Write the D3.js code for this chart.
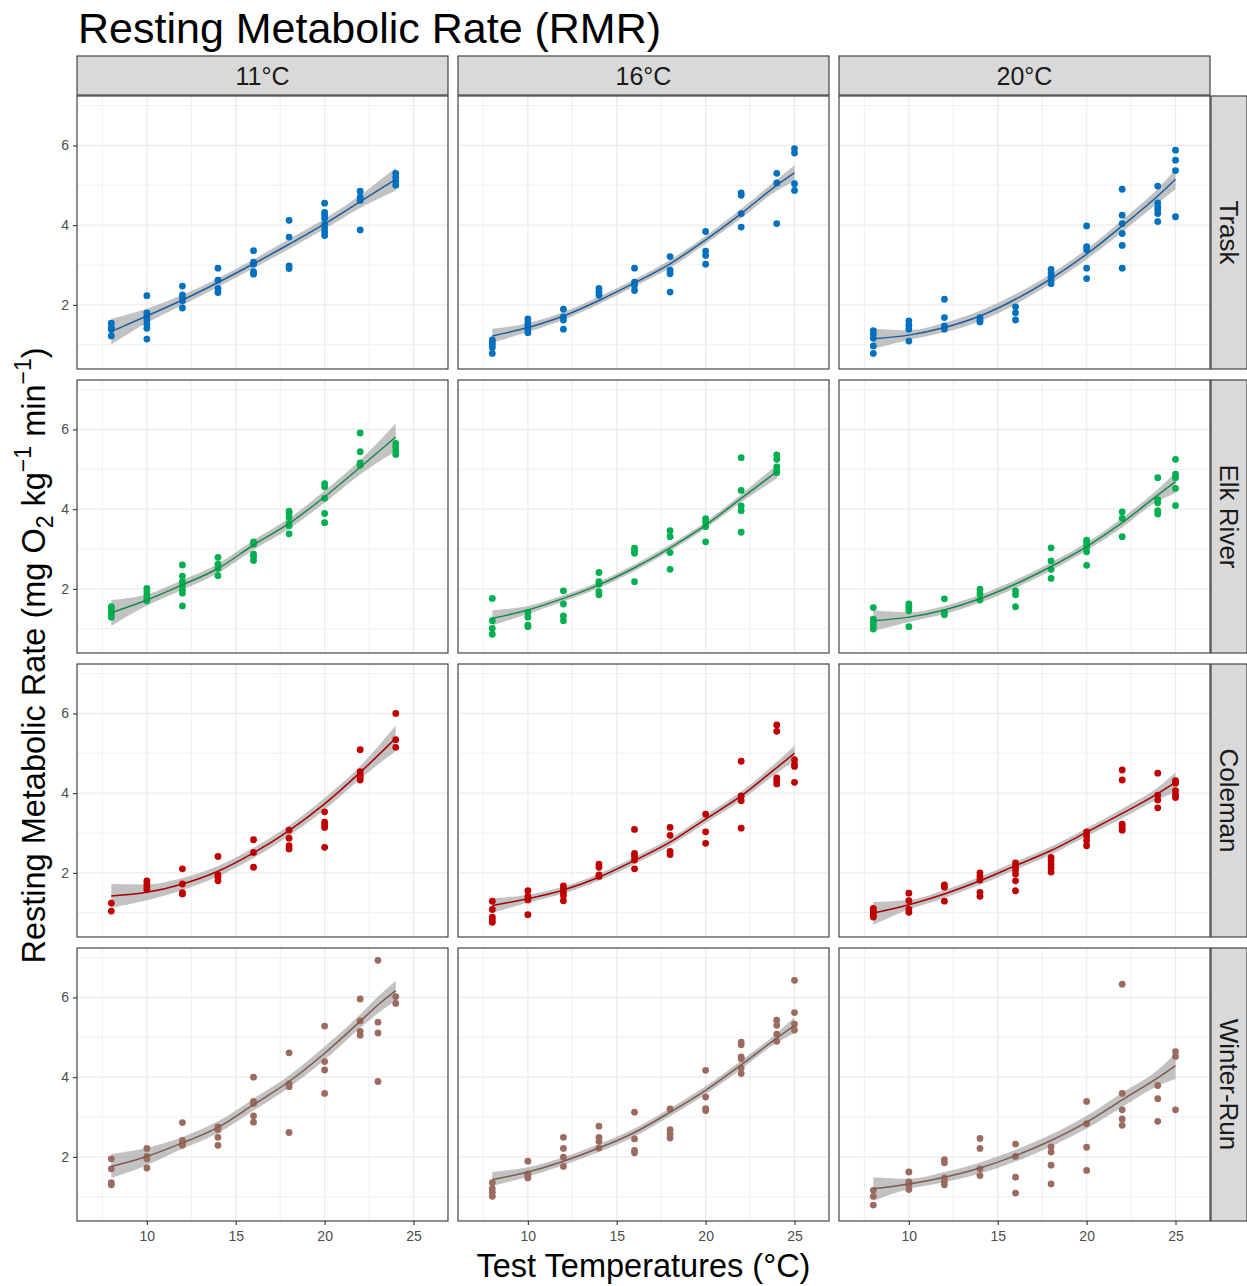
<!DOCTYPE html>
<html>
<head>
<meta charset="utf-8">
<script src="https://cdn.jsdelivr.net/npm/d3@7"></script>
<style>
  body { margin: 0; background: #ffffff; }
  text { font-family: "Liberation Sans", Arial, Helvetica, sans-serif; }
</style>
</head>
<body>
<svg id="chart" width="1247" height="1286"></svg>
<script>
// Facet labels
const acclimation = ["11°C", "16°C", "20°C"];
const stocks = ["Trask", "Elk River", "Coleman", "Winter-Run"];
const stockColors = ["#0070C0", "#00B050", "#C00000", "#9C6B60"];
const lineColors = ["#1A5E9E", "#178A48", "#A80000", "#7E5A50"];

// Axis ticks
const xTickValues = [10, 15, 20, 25];
const xMinorValues = [7.5, 12.5, 17.5, 22.5];
const yTickValues = [2, 4, 6];
const yMinorValues = [1, 3, 5, 7];

// Observations: [test temperature, RMR values...]
const trask11 = [[8,1.54,1.44,1.38,1.22],[10,2.23,1.80,1.72,1.62,1.51,1.41,1.14],[12,2.47,2.25,2.17,2.10,1.92],[14,2.92,2.62,2.41,2.31],[16,3.36,3.07,3.02,2.83,2.77],[18,4.12,3.70,2.98,2.91],[20,4.55,4.32,4.25,4.17,4.02,3.93,3.83,3.74],[22,4.85,4.70,4.62,3.88],[24,5.30,5.20,5.10,5.00]];
const trask16 = [[8,1.12,1.07,1.00,0.93,0.78],[10,1.65,1.55,1.47,1.39,1.30],[12,1.89,1.70,1.62,1.39],[14,2.41,2.32,2.24],[16,2.92,2.57,2.49,2.36],[18,3.21,2.87,2.78,2.32],[20,3.84,3.35,3.24,3.02],[22,4.81,4.75,4.29,3.95],[24,5.30,5.06,4.04],[25,5.92,5.81,5.04,4.87]];
const trask20 = [[8,1.35,1.26,1.16,0.97,0.78],[10,1.60,1.49,1.39,1.09],[12,2.14,1.68,1.47,1.39],[14,1.68,1.62,1.57],[16,1.95,1.80,1.62],[18,2.89,2.79,2.70,2.62,2.53],[20,3.98,3.46,3.38,2.92,2.66],[22,4.90,4.25,4.04,3.79,3.49,2.92],[24,4.98,4.56,4.46,4.38,4.29,4.09],[25,5.88,5.63,5.37,4.21]];
const elk11 = [[8,1.55,1.49,1.40,1.35,1.29],[10,2.01,1.93,1.85,1.76,1.70],[12,2.60,2.32,2.18,2.08,1.97,1.89,1.57],[14,2.79,2.62,2.51,2.33],[16,3.18,3.12,2.87,2.81,2.71],[18,3.95,3.89,3.79,3.63,3.58,3.38],[20,4.64,4.56,4.27,3.89,3.66],[22,5.91,5.44,5.16,5.10],[24,5.65,5.56,5.46,5.37]];
const elk16 = [[8,1.76,1.20,1.01,0.86],[10,1.41,1.29,1.09,1.05],[12,1.95,1.62,1.32,1.20],[14,2.41,2.18,2.12,1.93,1.85],[16,3.02,2.96,2.89,2.18],[18,3.46,3.31,2.91,2.49],[20,3.76,3.68,3.56,3.18],[22,5.29,4.47,4.08,3.96,3.42],[24,5.36,5.25,5.06,4.96,4.91]];
const elk20 = [[8,1.53,1.24,1.16,1.08,0.99],[10,1.62,1.54,1.45,1.05],[12,1.75,1.41,1.35],[14,1.99,1.87,1.72],[16,1.95,1.85,1.55],[18,3.03,2.70,2.49,2.26],[20,3.22,3.14,3.06,2.93,2.59],[22,3.93,3.77,3.31],[24,4.79,4.24,4.16,3.96,3.88],[25,5.25,4.88,4.79,4.52,4.09]];
const coleman11 = [[8,1.24,1.04],[10,1.80,1.72,1.65,1.58],[12,2.10,1.72,1.50,1.47],[14,2.41,1.95,1.89,1.80],[16,2.83,2.51,2.14],[18,3.07,2.87,2.68,2.60],[20,3.53,3.27,3.20,3.14,2.64],[22,5.09,4.54,4.46,4.40,4.33],[24,6.00,5.34,5.15]];
const coleman16 = [[8,1.29,1.08,0.89,0.83,0.76],[10,1.55,1.41,1.32,0.95],[12,1.67,1.60,1.51,1.43,1.30],[14,2.22,2.14,1.95,1.91],[16,3.09,2.49,2.41,2.32,2.10],[18,3.14,2.94,2.54,2.46],[20,3.47,3.03,2.74],[22,4.80,3.93,3.81,3.12],[24,5.71,5.55,4.38,4.31,4.23],[25,4.84,4.72,4.67,4.27]];
const coleman20 = [[8,1.11,1.05,0.99,0.93,0.89],[10,1.49,1.30,1.09,1.01],[12,1.70,1.64,1.29],[14,2.00,1.91,1.82,1.51,1.41],[16,2.25,2.16,2.07,1.97,1.80,1.55],[18,2.39,2.31,2.21,2.12,2.02],[20,3.03,2.92,2.81,2.68],[22,4.58,4.33,3.22,3.14,3.07],[24,4.50,3.95,3.83,3.63],[25,4.31,4.25,4.06,3.96,3.89]];
const winter11 = [[8,1.95,1.70,1.35,1.30],[10,2.21,2.01,1.95,1.72],[12,2.86,2.41,2.35,2.29],[14,2.75,2.68,2.49,2.29],[16,4.00,3.39,3.34,3.03,2.87],[18,4.61,3.83,3.76,2.61],[20,5.28,4.39,4.18,3.59],[22,5.96,5.41,5.15,5.05],[23,6.93,5.38,5.11,3.89],[24,6.02,5.85]];
const winter16 = [[8,1.35,1.20,1.11,1.01],[10,1.89,1.57,1.52,1.47],[12,2.49,2.21,1.99,1.76],[14,2.77,2.49,2.39,2.22],[16,3.12,2.45,2.16,2.10],[18,3.20,2.68,2.57,2.47],[20,4.17,3.50,3.21,3.16],[22,4.88,4.81,4.51,4.46,4.23,4.09],[24,5.43,5.30,5.08,4.90],[25,6.43,5.62,5.33,5.18]];
const winter20 = [[8,1.16,1.01,0.79],[10,1.62,1.37,1.30,1.18],[12,1.93,1.85,1.47,1.39,1.30],[14,2.46,2.21,1.70,1.53],[16,2.32,2.01,1.49,1.09],[18,2.25,2.12,1.79,1.32],[20,3.39,2.83,2.24,1.66],[22,6.33,3.59,3.18,2.95,2.79],[24,3.79,3.46,2.89],[25,4.64,4.52,3.18]];

// Smoothed trend with 95% band: [test temperature, fit, lower, upper]
const traskFit11 = [[8,1.33,1.01,1.65],[10,1.72,1.55,1.90],[12,2.12,1.99,2.25],[14,2.56,2.45,2.67],[16,3.03,2.92,3.14],[18,3.52,3.40,3.65],[20,4.03,3.90,4.16],[22,4.59,4.43,4.75],[24,5.15,4.86,5.44]];
const traskFit16 = [[8,1.22,1.05,1.40],[10,1.43,1.32,1.54],[12,1.72,1.62,1.82],[14,2.11,2.02,2.20],[16,2.55,2.46,2.64],[18,3.03,2.93,3.13],[20,3.63,3.53,3.73],[22,4.29,4.17,4.41],[24,5.00,4.86,5.14],[25,5.31,5.10,5.50]];
const traskFit20 = [[8,1.15,0.90,1.40],[10,1.24,1.12,1.36],[12,1.43,1.31,1.55],[14,1.72,1.59,1.85],[16,2.14,2.01,2.27],[18,2.66,2.54,2.78],[20,3.27,3.14,3.40],[22,3.98,3.83,4.13],[24,4.73,4.55,4.91],[25,5.15,4.90,5.40]];
const elkFit11 = [[8,1.40,1.07,1.72],[10,1.72,1.58,1.86],[12,2.10,1.98,2.22],[14,2.51,2.39,2.63],[16,3.10,2.98,3.22],[18,3.64,3.51,3.77],[20,4.31,4.16,4.46],[22,5.05,4.87,5.23],[24,5.81,5.45,6.15]];
const elkFit16 = [[8,1.26,1.08,1.46],[10,1.47,1.37,1.57],[12,1.76,1.68,1.84],[14,2.10,2.02,2.18],[16,2.53,2.45,2.61],[18,3.03,2.95,3.11],[20,3.60,3.52,3.68],[22,4.27,4.17,4.37],[24,4.94,4.77,5.11]];
const elkFit20 = [[8,1.20,0.94,1.46],[10,1.29,1.17,1.41],[12,1.47,1.37,1.57],[14,1.75,1.65,1.85],[16,2.12,2.02,2.22],[18,2.56,2.46,2.66],[20,3.06,2.96,3.16],[22,3.66,3.54,3.78],[24,4.35,4.20,4.50],[25,4.69,4.40,4.92]];
const colemanFit11 = [[8,1.42,1.12,1.72],[10,1.51,1.31,1.71],[12,1.72,1.57,1.87],[14,2.04,1.91,2.17],[16,2.50,2.37,2.63],[18,3.06,2.93,3.19],[20,3.73,3.58,3.88],[22,4.52,4.36,4.68],[24,5.38,5.06,5.70]];
const colemanFit16 = [[8,1.18,1.00,1.36],[10,1.35,1.25,1.45],[12,1.57,1.48,1.66],[14,1.89,1.80,1.98],[16,2.31,2.22,2.40],[18,2.77,2.68,2.86],[20,3.35,3.25,3.45],[22,3.93,3.82,4.04],[24,4.64,4.50,4.78],[25,5.00,4.81,5.19]];
const colemanFit20 = [[8,0.99,0.70,1.27],[10,1.20,1.08,1.32],[12,1.47,1.37,1.57],[14,1.80,1.70,1.90],[16,2.18,2.08,2.28],[18,2.56,2.46,2.66],[20,3.02,2.92,3.12],[22,3.49,3.37,3.61],[24,3.99,3.84,4.14],[25,4.27,4.02,4.52]];
const winterFit11 = [[8,1.76,1.47,2.07],[10,2.01,1.79,2.23],[12,2.35,2.20,2.50],[14,2.74,2.59,2.89],[16,3.31,3.16,3.46],[18,3.89,3.74,4.04],[20,4.60,4.43,4.77],[22,5.40,5.23,5.57],[23,5.81,5.60,6.02],[24,6.17,5.93,6.42]];
const winterFit16 = [[8,1.43,1.27,1.62],[10,1.62,1.50,1.74],[12,1.89,1.79,1.99],[14,2.22,2.12,2.32],[16,2.61,2.51,2.71],[18,3.12,3.02,3.22],[20,3.67,3.57,3.77],[22,4.31,4.20,4.42],[24,4.98,4.86,5.10],[25,5.30,5.10,5.50]];
const winterFit20 = [[8,1.20,0.90,1.49],[10,1.32,1.19,1.45],[12,1.49,1.36,1.62],[14,1.72,1.58,1.86],[16,2.03,1.88,2.18],[18,2.41,2.26,2.56],[20,2.87,2.71,3.03],[22,3.43,3.25,3.61],[24,3.98,3.78,4.18],[25,4.29,3.95,4.60]];

const panelPoints = [
  [trask11, trask16, trask20],
  [elk11, elk16, elk20],
  [coleman11, coleman16, coleman20],
  [winter11, winter16, winter20]
];
const panelFits = [
  [traskFit11, traskFit16, traskFit20],
  [elkFit11, elkFit16, elkFit20],
  [colemanFit11, colemanFit16, colemanFit20],
  [winterFit11, winterFit16, winterFit20]
];

(function draw() {
  const svg = d3.select("#chart");
  const gridLeft = 77, gridTop = 96, pw = 371, ph = 273, gapX = 10, gapY = 11;
  const stripH = 40, stripW = 36;
  const gridRight = gridLeft + 3 * pw + 2 * gapX;
  const gridBottom = gridTop + 4 * ph + 3 * gapY;
  const fontFamily = "Liberation Sans, Arial, sans-serif";

  const x = d3.scaleLinear().domain([6.07, 26.94]).range([0, pw]);
  const y = d3.scaleLinear().domain([0.39, 7.24]).range([ph, 0]);

  const band = d3.area()
    .x(d => x(d[0])).y0(d => y(d[2])).y1(d => y(d[3]))
    .curve(d3.curveMonotoneX);
  const trend = d3.line()
    .x(d => x(d[0])).y(d => y(d[1]))
    .curve(d3.curveMonotoneX);

  svg.append("rect").attr("width", 1247).attr("height", 1286).attr("fill", "#ffffff");

  // Title
  svg.append("text")
    .attr("x", 78).attr("y", 43)
    .attr("font-size", 43).attr("fill", "#000")
    .text("Resting Metabolic Rate (RMR)");

  stocks.forEach((stock, r) => {
    acclimation.forEach((acc, c) => {
      const px = gridLeft + c * (pw + gapX);
      const py = gridTop + r * (ph + gapY);
      const g = svg.append("g").attr("transform", `translate(${px},${py})`);

      g.append("rect").attr("width", pw).attr("height", ph).attr("fill", "#fff");

      // minor grid
      g.selectAll("line.xminor").data(xMinorValues).join("line").attr("class", "xminor")
        .attr("x1", d => x(d)).attr("x2", d => x(d)).attr("y1", 0).attr("y2", ph)
        .attr("stroke", "#EBEBEB").attr("stroke-width", 0.8);
      g.selectAll("line.yminor").data(yMinorValues).join("line").attr("class", "yminor")
        .attr("y1", d => y(d)).attr("y2", d => y(d)).attr("x1", 0).attr("x2", pw)
        .attr("stroke", "#EBEBEB").attr("stroke-width", 0.8);
      // major grid
      g.selectAll("line.xmajor").data(xTickValues).join("line").attr("class", "xmajor")
        .attr("x1", d => x(d)).attr("x2", d => x(d)).attr("y1", 0).attr("y2", ph)
        .attr("stroke", "#EBEBEB").attr("stroke-width", 1.3);
      g.selectAll("line.ymajor").data(yTickValues).join("line").attr("class", "ymajor")
        .attr("y1", d => y(d)).attr("y2", d => y(d)).attr("x1", 0).attr("x2", pw)
        .attr("stroke", "#EBEBEB").attr("stroke-width", 1.3);

      // confidence band
      g.append("path").datum(panelFits[r][c]).attr("d", band)
        .attr("fill", "#999999").attr("fill-opacity", 0.6);

      // observations
      const pts = panelPoints[r][c].flatMap(row => row.slice(1).map(v => [row[0], v]));
      g.selectAll("circle.obs").data(pts).join("circle").attr("class", "obs")
        .attr("cx", d => x(d[0])).attr("cy", d => y(d[1]))
        .attr("r", 3.4).attr("fill", stockColors[r]);

      // fitted trend
      g.append("path").datum(panelFits[r][c]).attr("d", trend)
        .attr("fill", "none").attr("stroke", lineColors[r]).attr("stroke-width", 1.5);

      // panel border
      g.append("rect").attr("width", pw).attr("height", ph)
        .attr("fill", "none").attr("stroke", "#333333").attr("stroke-width", 1.1);

      // y axis on first column
      if (c === 0) {
        const ay = g.append("g").call(d3.axisLeft(y).tickValues(yTickValues)
          .tickFormat(d3.format("d")).tickSize(4).tickPadding(4));
        ay.select(".domain").remove();
        ay.selectAll(".tick line").attr("stroke", "#333333").attr("stroke-width", 1.1);
        ay.selectAll(".tick text").attr("font-size", 14).attr("fill", "#4D4D4D")
          .attr("font-family", fontFamily);
      }
      // x axis on bottom row
      if (r === stocks.length - 1) {
        const ax = g.append("g").attr("transform", `translate(0,${ph})`)
          .call(d3.axisBottom(x).tickValues(xTickValues).tickFormat(d3.format("d"))
            .tickSize(4).tickPadding(6));
        ax.select(".domain").remove();
        ax.selectAll(".tick line").attr("stroke", "#333333").attr("stroke-width", 1.1);
        ax.selectAll(".tick text").attr("font-size", 14).attr("fill", "#4D4D4D")
          .attr("font-family", fontFamily);
      }
    });
  });

  // Column strips
  acclimation.forEach((acc, c) => {
    const sx = gridLeft + c * (pw + gapX);
    svg.append("rect").attr("x", sx).attr("y", gridTop - stripH).attr("width", pw).attr("height", stripH - 1)
      .attr("fill", "#D9D9D9").attr("stroke", "#333333").attr("stroke-width", 1.1);
    svg.append("text").attr("x", sx + pw / 2).attr("y", gridTop - stripH / 2)
      .attr("text-anchor", "middle").attr("dominant-baseline", "central")
      .attr("font-size", 25).attr("fill", "#1A1A1A").text(acc);
  });

  // Row strips
  stocks.forEach((stock, r) => {
    const sy = gridTop + r * (ph + gapY);
    svg.append("rect").attr("x", gridRight + 1).attr("y", sy).attr("width", stripW).attr("height", ph)
      .attr("fill", "#D9D9D9").attr("stroke", "#333333").attr("stroke-width", 1.1);
    svg.append("text")
      .attr("transform", `translate(${gridRight + 1 + stripW / 2},${sy + ph / 2}) rotate(90)`)
      .attr("text-anchor", "middle").attr("dominant-baseline", "central")
      .attr("font-size", 26).attr("fill", "#1A1A1A").text(stock);
  });

  // Axis titles
  svg.append("text")
    .attr("x", gridLeft + (gridRight - gridLeft) / 2).attr("y", 1277)
    .attr("text-anchor", "middle").attr("font-size", 32.5).attr("fill", "#000")
    .text("Test Temperatures (°C)");

  const yTitle = svg.append("text")
    .attr("transform", `translate(45,${(gridTop + gridBottom) / 2 - 3}) rotate(-90)`)
    .attr("text-anchor", "middle").attr("font-size", 32.5).attr("fill", "#000");
  yTitle.append("tspan").text("Resting Metabolic Rate (mg O");
  yTitle.append("tspan").attr("font-size", 23).attr("dy", 8).text("2");
  yTitle.append("tspan").attr("dy", -8).text(" kg");
  yTitle.append("tspan").attr("font-size", 23).attr("dy", -14).text("\u22121");
  yTitle.append("tspan").attr("dy", 14).text(" min");
  yTitle.append("tspan").attr("font-size", 23).attr("dy", -14).text("\u22121");
  yTitle.append("tspan").attr("dy", 14).text(")");
})();
</script>
</body>
</html>
